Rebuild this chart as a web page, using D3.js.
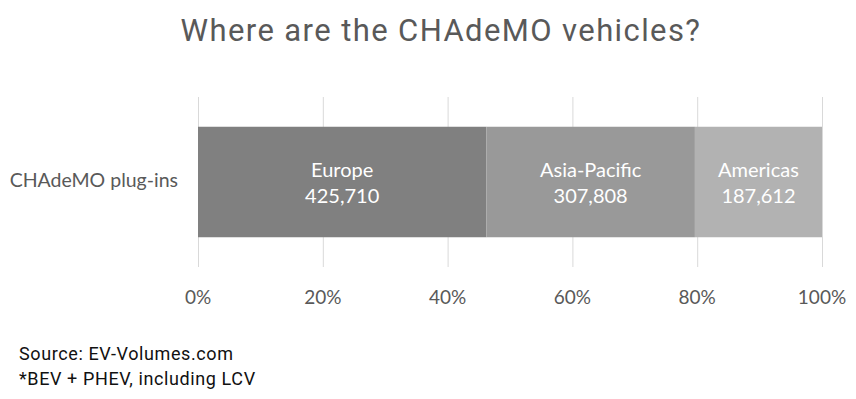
<!DOCTYPE html>
<html>
<head>
<meta charset="utf-8">
<script src="https://cdn.jsdelivr.net/npm/d3@7.9.0/dist/d3.min.js"></script>
<style>
  body { margin: 0; background: #fff; }
  svg { display: block; }
</style>
</head>
<body>
<svg id="chart" width="856" height="399"></svg>
<script>
// Chart data
const category = 'CHAdeMO plug-ins';
const regions = ['Europe', 'Asia-Pacific', 'Americas'];
const vehicles = [425710, 307808, 187612];
const colors = ['#808080', '#999999', '#b2b2b2'];
const ticks = [0, 0.2, 0.4, 0.6, 0.8, 1];

const svg = d3.select('#chart');
const labelFont = 'Lato, "Open Sans", sans-serif';

// Plot area
const x = d3.scaleLinear().domain([0, 1]).range([198, 822]);
const y = d3.scaleBand().domain([category]).range([97, 267]).paddingInner(0.35).paddingOuter(0.17);

// Gridlines
svg.append('g')
  .selectAll('line')
  .data(ticks)
  .join('line')
  .attr('x1', d => x(d) + 0.5)
  .attr('x2', d => x(d) + 0.5)
  .attr('y1', 97)
  .attr('y2', 267)
  .attr('stroke', '#d9d9d9')
  .attr('stroke-width', 1);

// Stacked 100% segments
const total = d3.sum(vehicles);
let acc = 0;
const segments = regions.map((r, i) => {
  const s = { region: r, value: vehicles[i], x0: acc / total, x1: (acc + vehicles[i]) / total, color: colors[i] };
  acc += vehicles[i];
  return s;
});

const bars = svg.append('g')
  .selectAll('g')
  .data(segments)
  .join('g');

bars.append('rect')
  .attr('x', d => x(d.x0))
  .attr('y', y(category))
  .attr('width', d => x(d.x1) - x(d.x0))
  .attr('height', y.bandwidth())
  .attr('fill', d => d.color);

const fmt = d3.format(',');
const cy = y(category) + y.bandwidth() / 2;

bars.append('text')
  .attr('x', d => (x(d.x0) + x(d.x1)) / 2)
  .attr('y', cy - 5)
  .attr('text-anchor', 'middle')
  .attr('fill', '#fff')
  .style('font', `20px ${labelFont}`)
  .text(d => d.region);

bars.append('text')
  .attr('x', d => (x(d.x0) + x(d.x1)) / 2)
  .attr('y', cy + 21)
  .attr('text-anchor', 'middle')
  .attr('fill', '#fff')
  .style('font', `20px ${labelFont}`)
  .text(d => fmt(d.value));

// Category label
svg.append('text')
  .attr('x', 178)
  .attr('y', 187)
  .attr('text-anchor', 'end')
  .attr('fill', '#595959')
  .style('font', `19.5px ${labelFont}`)
  .text(category);

// X axis tick labels
svg.append('g')
  .selectAll('text')
  .data(ticks)
  .join('text')
  .attr('x', d => x(d))
  .attr('y', 304)
  .attr('text-anchor', 'middle')
  .attr('fill', '#595959')
  .style('font', `19px ${labelFont}`)
  .text(d3.format('.0%'));

// Title
svg.append('text')
  .attr('x', 441)
  .attr('y', 41)
  .attr('text-anchor', 'middle')
  .attr('fill', '#595959')
  .style('font', '31px Roboto, sans-serif')
  .style('letter-spacing', '1.4px')
  .text('Where are the CHAdeMO vehicles?');

// Footnotes
svg.append('text')
  .attr('x', 19)
  .attr('y', 360)
  .attr('fill', '#111')
  .style('font', '18px Roboto, sans-serif')
  .style('letter-spacing', '0.6px')
  .text('Source: EV-Volumes.com');

svg.append('text')
  .attr('x', 19)
  .attr('y', 385)
  .attr('fill', '#111')
  .style('font', '18px Roboto, sans-serif')
  .style('letter-spacing', '0.6px')
  .text('*BEV + PHEV, including LCV');
</script>
</body>
</html>
